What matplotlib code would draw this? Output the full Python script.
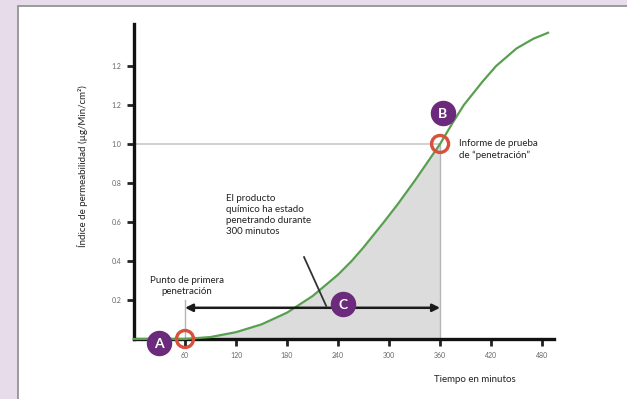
import matplotlib.pyplot as plt
from matplotlib.patches import Rectangle
import numpy as np

# Datos
tiempo = [0, 60, 90, 120, 150, 180, 210, 240, 256, 270, 294, 310, 330, 345, 360, 375, 388, 410, 426, 450, 470, 487]
indice = [0, 0, 0.01, 0.035, 0.075, 0.135, 0.22, 0.33, 0.40, 0.47, 0.60, 0.69, 0.81, 0.905, 1.0, 1.11, 1.2, 1.32, 1.4, 1.49, 1.54, 1.57]
ticks_x = [60, 120, 180, 240, 300, 360, 420, 480]
etiquetas_x = ['60', '120', '180', '240', '300', '360', '420', '480']
ticks_y = [0.2, 0.4, 0.6, 0.8, 1.0, 1.2, 1.4]
etiquetas_y = ['0.2', '0.4', '0.6', '0.8', '1.0', '1.2', '1.2']
t_inicio = 60
t_informe = 360
nivel_informe = 1.0

plt.rcParams['font.family'] = ['Lato', 'DejaVu Sans']

morado = '#6b2a7c'
rojo = '#d9503c'
verde = '#58a050'

fig = plt.figure(figsize=(6.27, 3.99), dpi=100)
fig.patch.set_facecolor('#e6dcea')
# Panel blanco
fig.patches.append(Rectangle((18 / 627, -0.05), 1, 1.05 - 6 / 399, transform=fig.transFigure,
                             facecolor='white', edgecolor='#8c8c8c', linewidth=1.2, zorder=-5))

ax = fig.add_axes([134 / 627, 60 / 399, 420 / 627, 315 / 399])
ax.set_xlim(0, 494)
ax.set_ylim(0, 1.615)
ax.patch.set_alpha(0)

t = np.array(tiempo)
v = np.array(indice)

# Area sombreada bajo la curva
m = (t >= t_inicio) & (t <= t_informe)
ax.fill_between(t[m], 0, v[m], color='#dcdcdc', lw=0, zorder=1)
ax.plot([t_informe, t_informe], [0, nivel_informe], color='#b5b5b5', lw=1, zorder=2)
ax.plot([0, t_informe], [nivel_informe, nivel_informe], color='#c8c8c8', lw=1.2, zorder=2)
ax.plot([t_inicio, t_inicio], [0, 0.2], color='#b5b5b5', lw=1, zorder=2)

# Curva
ax.plot(t, v, color=verde, lw=1.6, zorder=3, clip_on=False)

# Flecha doble
ax.annotate('', xy=(t_informe, 0.16), xytext=(t_inicio, 0.16),
            arrowprops=dict(arrowstyle='<|-|>', color='#1a1a1a', lw=1.8, mutation_scale=11,
                            shrinkA=0, shrinkB=0), zorder=4)
ax.plot([200, 226], [0.42, 0.17], color='#333333', lw=1.3, zorder=4)

# Anillos rojos
for (px, py) in [(t_inicio, 0), (t_informe, nivel_informe)]:
    ax.scatter([px], [py], s=150, facecolors='none', edgecolors=rojo, linewidths=2.4,
               zorder=5, clip_on=False)

# Circulos morados
for letra, px, py in [('A', 29, -0.02), ('B', 363, 1.16), ('C', 246, 0.18)]:
    ax.scatter([px], [py], s=300, color=morado, zorder=6, clip_on=False)
    ax.text(px, py - 0.005, letra, color='white', fontsize=10, fontweight='bold',
            ha='center', va='center', zorder=7)

# Textos
ax.text(62, 0.27, 'Punto de primera\npenetración', fontsize=7, ha='center', va='center',
        color='#222222', linespacing=1.3)
ax.text(108, 0.635, 'El producto\nquímico ha estado\npenetrando durante\n300 minutos',
        fontsize=7, ha='left', va='center', color='#222222', linespacing=1.3)
ax.text(382, 0.97, 'Informe de prueba\nde “penetración”', fontsize=7, ha='left', va='center',
        color='#222222', linespacing=1.3)
fig.text(475 / 627, 1 - 379 / 399, 'Tiempo en minutos', fontsize=7, ha='center', va='center',
         color='#222222')
fig.text(82 / 627, 1 - 166 / 399, 'Índice de permeabilidad (µg/Min/cm²)', fontsize=7,
         rotation=90, ha='center', va='center', color='#222222')

# Ejes
for s in ['top', 'right']:
    ax.spines[s].set_visible(False)
for s in ['left', 'bottom']:
    ax.spines[s].set_linewidth(2.4)
    ax.spines[s].set_color('#111111')
ax.set_xticks(ticks_x)
ax.set_xticklabels(etiquetas_x)
ax.set_yticks(ticks_y)
ax.set_yticklabels(etiquetas_y)
ax.tick_params(axis='both', length=5, width=2, color='#222222', labelsize=5,
               labelcolor='#666666', pad=4)

fig.savefig('out.png', dpi=100, facecolor=fig.get_facecolor())
